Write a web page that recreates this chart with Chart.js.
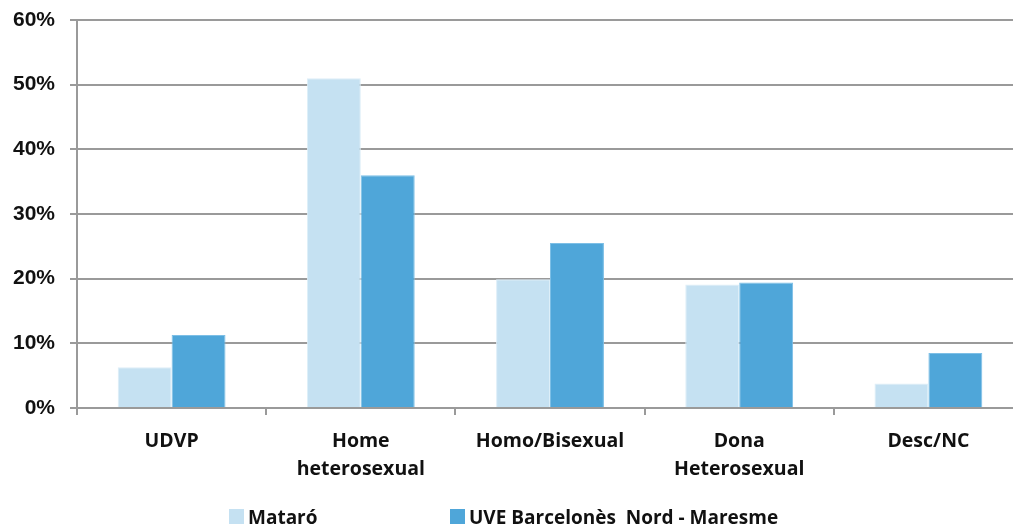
<!DOCTYPE html>
<html>
<head>
<meta charset="utf-8">
<script src="https://cdn.jsdelivr.net/npm/chart.js@4"></script>
<style>
    html, body { margin: 0; padding: 0; background: #fff; overflow: hidden; }
    #wrap { width: 1023px; height: 528px; }
</style>
</head>
<body>
<div id="wrap"><canvas id="chart" width="1023" height="528"></canvas></div>
<script>
// Categories and values
const categories = [['UDVP'], ['Home', 'heterosexual'], ['Homo/Bisexual'], ['Dona', 'Heterosexual'], ['Desc/NC']];
const seriesNames = ['Mataró', 'UVE Barcelonès  Nord - Maresme'];
const mataro = [6.3, 51.0, 19.9, 19.1, 3.8];
const uve = [11.3, 36.0, 25.5, 19.4, 8.5];
const yTicks = [0, 10, 20, 30, 40, 50, 60];

const fillColors = ['#C5E1F2', '#4FA6D9'];
const edgeColors = ['#DDEEF8', '#7DBFE6'];
const gridColor = '#9A9A9A';
const labelFont = "'Open Sans', 'Liberation Sans', sans-serif";

// legend drawn on the canvas, two items spread apart like the original
const spreadLegend = {
    id: 'spreadLegend',
    afterDraw(chart) {
        const ctx = chart.ctx;
        const itemX = [229, 450];
        const boxY = 509;
        ctx.save();
        ctx.font = 'bold 19px ' + labelFont;
        ctx.textBaseline = 'alphabetic';
        ctx.textAlign = 'left';
        chart.data.datasets.forEach((ds, i) => {
            ctx.fillStyle = ds.backgroundColor;
            ctx.fillRect(itemX[i], boxY, 15, 15);
            ctx.fillStyle = '#111';
            ctx.fillText(ds.label, itemX[i] + 19, 524);
        });
        ctx.restore();
    }
};

new Chart(document.getElementById('chart').getContext('2d'), {
    type: 'bar',
    data: {
        labels: categories,
        datasets: [
            { label: seriesNames[0], data: mataro, backgroundColor: fillColors[0], borderColor: edgeColors[0], borderWidth: 1 },
            { label: seriesNames[1], data: uve, backgroundColor: fillColors[1], borderColor: edgeColors[1], borderWidth: 1 }
        ]
    },
    options: {
        responsive: false,
        animation: false,
        layout: { padding: { top: 20, right: 0, bottom: 0, left: 0 } },
        datasets: {
            bar: { categoryPercentage: 0.57, barPercentage: 1.0 }
        },
        plugins: {
            legend: { display: false },
            tooltip: { enabled: false }
        },
        scales: {
            x: {
                grid: { drawOnChartArea: false, drawTicks: true, tickLength: 7, color: gridColor, lineWidth: 2 },
                border: { color: gridColor, width: 2 },
                ticks: {
                    color: '#111',
                    font: { family: labelFont, weight: 'bold', size: 19.5, lineHeight: 1.42 },
                    padding: 13,
                    maxRotation: 0,
                    autoSkip: false
                },
                afterFit: scale => { scale.height = 120; }
            },
            y: {
                min: 0,
                max: 60,
                afterBuildTicks: scale => { scale.ticks = yTicks.map(v => ({ value: v })); },
                grid: { color: gridColor, lineWidth: 2, drawTicks: true, tickLength: 7 },
                border: { color: gridColor, width: 2 },
                ticks: {
                    color: '#111',
                    font: { family: "'Liberation Sans', Arial, sans-serif", weight: 'bold', size: 21 },
                    padding: 15,
                    callback: v => v + '%'
                },
                afterFit: scale => {
                    scale.width = 77;
                    scale.paddingTop = 0;
                    scale.paddingBottom = 0;
                }
            }
        }
    },
    plugins: [spreadLegend]
});
</script>
</body>
</html>
